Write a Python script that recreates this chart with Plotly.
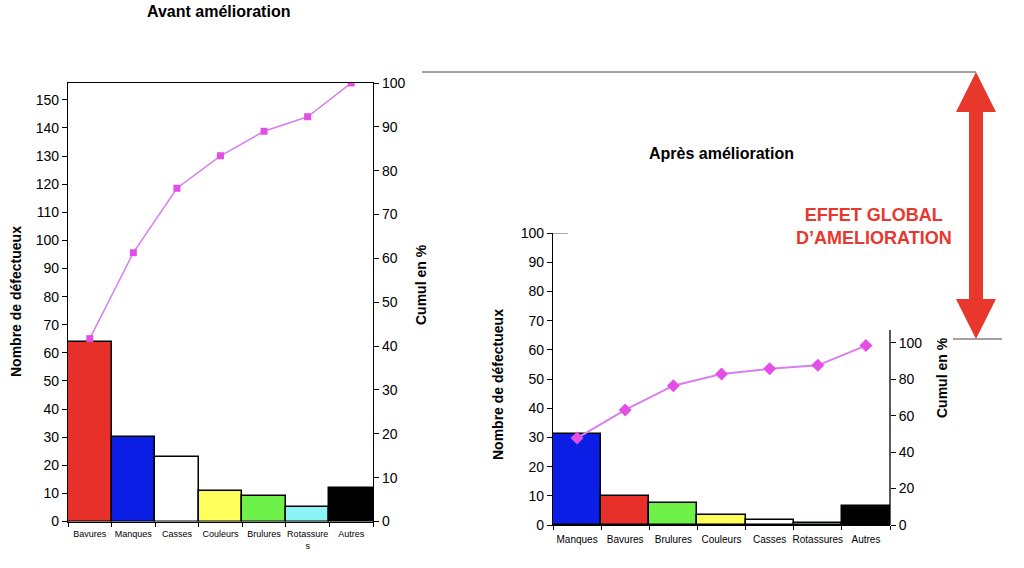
import plotly.graph_objects as go

W, H = 1024, 568

# ---- Data: before improvement ----
cats_before = ["Bavures", "Manques", "Casses", "Couleurs", "Brulures", "Rotassure<br>s", "Autres"]
counts_before = [64, 30, 23, 11, 9, 5, 12]
cumul_before = [41.7, 61.3, 76.0, 83.4, 89.0, 92.3, 100.0]
colors_before = ["#e8302a", "#0a1ee6", "#ffffff", "#ffff5c", "#6ef24a", "#8cf4f4", "#000000"]

# ---- Data: after improvement ----
cats_after = ["Manques", "Bavures", "Brulures", "Couleurs", "Casses", "Rotassures", "Autres"]
counts_after = [31, 10, 7.5, 3.5, 1.6, 0.7, 6.5]
cumul_after = [47.7, 63.1, 76.4, 82.8, 85.7, 87.6, 98.4]
colors_after = ["#0a1ee6", "#e8302a", "#6ef24a", "#ffff5c", "#ffffff", "#8cf4f4", "#000000"]

left_ticks = list(range(0, 151, 10))
left_pct_ticks = list(range(0, 101, 10))
right_ticks = list(range(0, 101, 10))
right_pct_ticks = list(range(0, 101, 20))

FONT = "Liberation Sans, Arial, sans-serif"
LINE_COL = "#d87ff0"
MARK_COL = "#e34ee6"

def px(x):
    return x / W

def py(y):
    return (H - y) / H

fig = go.Figure()

fig.add_trace(go.Bar(x=cats_before, y=counts_before, marker=dict(color=colors_before, line=dict(color="black", width=1.5)),
                     xaxis="x", yaxis="y", showlegend=False))
fig.add_trace(go.Scatter(x=cats_before, y=cumul_before, mode="lines+markers",
                         line=dict(color=LINE_COL, width=1.5),
                         marker=dict(symbol="square", size=7, color=MARK_COL),
                         xaxis="x", yaxis="y2", showlegend=False))

fig.add_trace(go.Bar(x=cats_after, y=counts_after, marker=dict(color=colors_after, line=dict(color="black", width=1.5)),
                     xaxis="x2", yaxis="y3", showlegend=False))
fig.add_trace(go.Scatter(x=cats_after, y=cumul_after, mode="lines+markers",
                         line=dict(color=LINE_COL, width=2),
                         marker=dict(symbol="diamond", size=10, color=MARK_COL),
                         xaxis="x2", yaxis="y4", showlegend=False))

axis_common = dict(showgrid=False, zeroline=False, linecolor="black", linewidth=1.3,
                   ticks="outside", ticklen=5, tickcolor="black", tickwidth=1.2, automargin=False)

fig.update_layout(
    width=W, height=H,
    margin=dict(l=0, r=0, t=0, b=0, autoexpand=False),
    paper_bgcolor="white", plot_bgcolor="white",
    font=dict(family=FONT, color="black"),
    bargap=0,
    xaxis=dict(domain=[px(68), px(373)], anchor="y", showline=True, mirror=True,
               showgrid=False, zeroline=False, linecolor="black", linewidth=1.3,
               ticks="outside", ticklen=4, tickcolor="black", tickson="boundaries",
               tickfont=dict(size=9), tickangle=0, fixedrange=True, automargin=False,
               ticklabelstandoff=4),
    yaxis=dict(domain=[py(521.5), py(83)], anchor="x", range=[0, 156], tickvals=left_ticks,
               showline=True, tickfont=dict(size=14), **axis_common),
    yaxis2=dict(overlaying="y", side="right", anchor="x", range=[0, 100], tickvals=left_pct_ticks,
                showline=True, tickfont=dict(size=14), **axis_common),
    xaxis2=dict(domain=[px(553), px(890)], anchor="y3", showline=True,
                showgrid=False, zeroline=False, linecolor="black", linewidth=1.3,
                ticks="outside", ticklen=4, tickcolor="black", tickson="boundaries",
                tickfont=dict(size=10), tickangle=0, fixedrange=True, automargin=False,
                ticklabelstandoff=5),
    yaxis3=dict(domain=[py(525), py(233)], anchor="x2", range=[0, 100], tickvals=right_ticks,
                showline=True, tickfont=dict(size=14), **axis_common),
    yaxis4=dict(overlaying="y3", side="right", anchor="x2",
                range=[0, 100 * (525 - 233) / (525 - 342.7)], tickvals=right_pct_ticks,
                showline=False, tickfont=dict(size=14), **{k: v for k, v in axis_common.items() if k not in ("linecolor", "linewidth")}),
)

shapes = []
# right axis line of the "after" chart (shorter than the plot)
shapes.append(dict(type="line", xref="x2 domain", yref="y4", x0=1, x1=1, y0=0, y1=107,
                   line=dict(color="black", width=1.3)))
# short line at top of left axis of the "after" chart
shapes.append(dict(type="line", xref="x2 domain", yref="y3", x0=0, x1=0.045, y0=100, y1=100,
                   line=dict(color="#555", width=1)))
# reference lines of the global-effect arrow
shapes.append(dict(type="line", xref="paper", yref="paper", x0=px(422), x1=px(976), y0=py(72), y1=py(72),
                   line=dict(color="#444", width=1)))
shapes.append(dict(type="line", xref="paper", yref="paper", x0=px(953), x1=px(1002), y0=py(339), y1=py(339),
                   line=dict(color="#444", width=1)))
# double-headed red arrow
ax = 976
top, bot = 72, 339
hw, sw, hl = 20, 7, 40
pts = [(ax, top), (ax + hw, top + hl), (ax + sw, top + hl), (ax + sw, bot - hl), (ax + hw, bot - hl),
       (ax, bot), (ax - hw, bot - hl), (ax - sw, bot - hl), (ax - sw, top + hl), (ax - hw, top + hl)]
path = "M " + " L ".join(f"{px(x):.5f},{py(y):.5f}" for x, y in pts) + " Z"
shapes.append(dict(type="path", xref="paper", yref="paper", path=path,
                   fillcolor="#e8372c", line=dict(color="#e8372c", width=0)))
fig.update_layout(shapes=shapes)

ann = []
def add_text(text, x, y, size, angle=0, color="black"):
    ann.append(dict(text=text, x=px(x), y=py(y), xref="paper", yref="paper", showarrow=False,
                    xanchor="center", yanchor="middle", textangle=angle,
                    font=dict(size=size, color=color, family=FONT)))

add_text("<b>Avant amélioration</b>", 218, 11, 16)
add_text("<b>Après amélioration</b>", 721, 154, 16)
add_text("<b>EFFET GLOBAL<br>D’AMELIORATION</b>", 874, 226, 18, color="#e8372c")
add_text("<b>Nombre de défectueux</b>", 16, 302, 14, angle=-90)
add_text("<b>Cumul en %</b>", 421, 285, 14, angle=-90)
add_text("<b>Nombre de défectueux</b>", 498, 385, 14, angle=-90)
add_text("<b>Cumul en %</b>", 942, 378, 14, angle=-90)
fig.update_layout(annotations=ann)

fig.write_html("out.html", config={"displayModeBar": False},
               post_script="document.body.style.margin='0';document.body.style.padding='0';document.body.style.overflow='hidden';")
